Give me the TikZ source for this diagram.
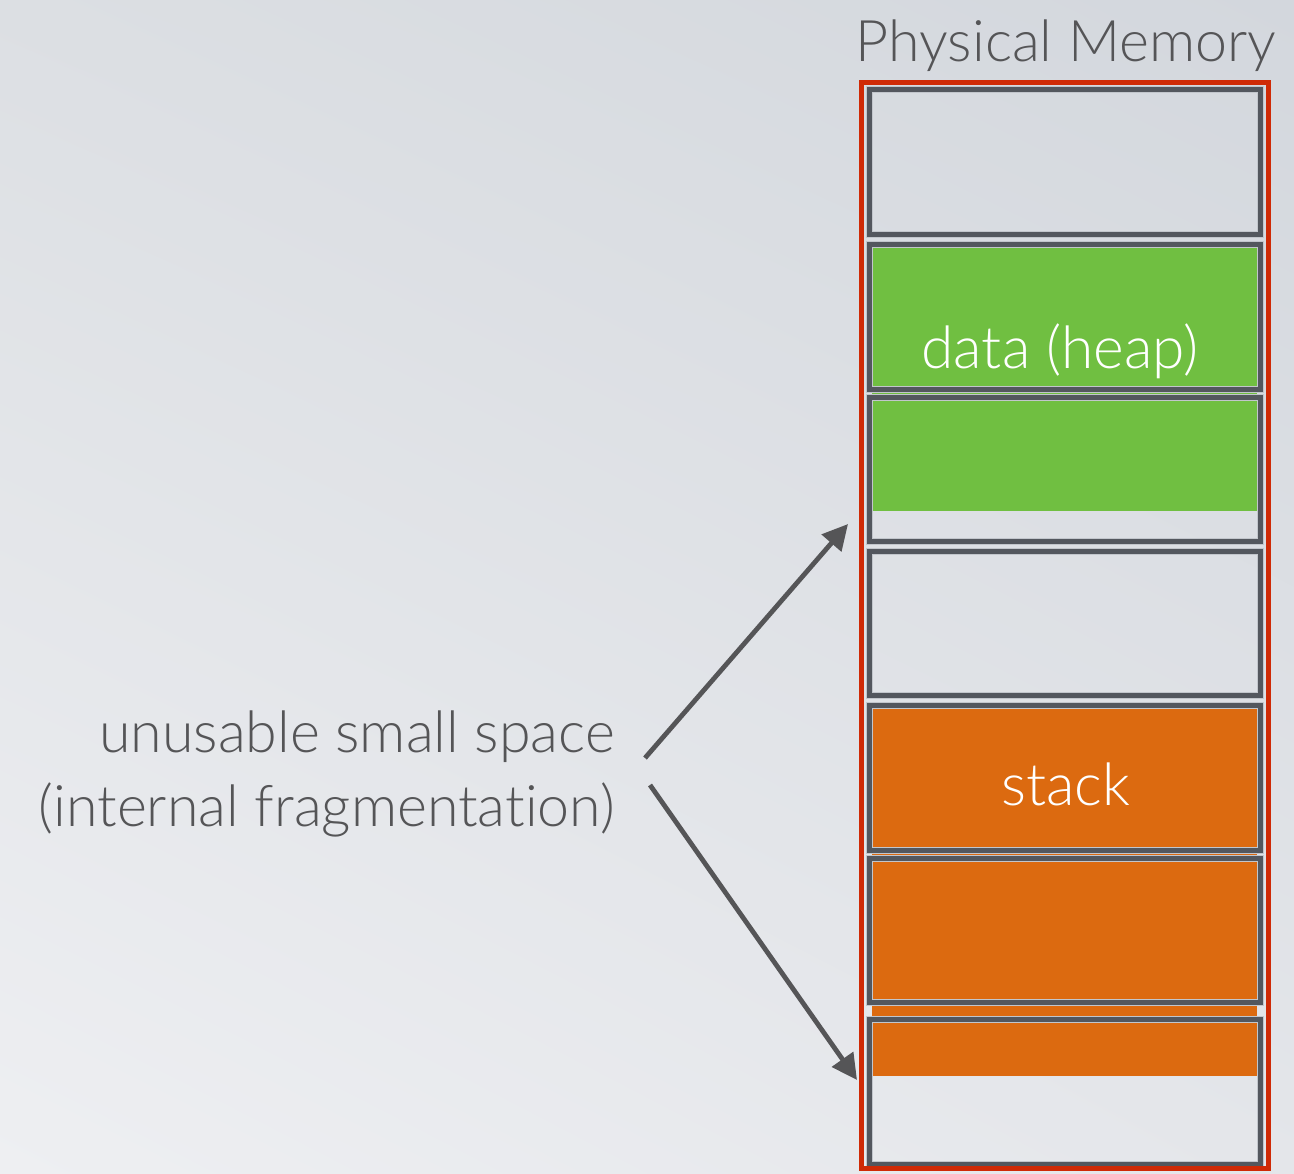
\documentclass[tikz,border=0pt]{standalone}
\usepackage{fontspec}
\setmainfont{Lato}[UprightFont={* Light}, Ligatures=NoCommon]
\usetikzlibrary{arrows.meta,shadings}

\definecolor{bgtr}{HTML}{D3D7DD}
\definecolor{bgtl}{HTML}{DCDFE3}
\definecolor{bgbl}{HTML}{EEEFF2}
\definecolor{bgbr}{HTML}{E4E6EA}
\definecolor{slate}{HTML}{53575E}
\definecolor{edgehi}{HTML}{C2C6CC}
\definecolor{heapgreen}{HTML}{70BF41}
\definecolor{stackorange}{HTML}{DC6A10}
\definecolor{framered}{HTML}{CF2A06}
\definecolor{inkgray}{HTML}{555557}

\tikzset{
  frame/.style={draw=framered, line width=3.75pt, inner sep=0pt,
    minimum width=305.25pt, minimum height=813.75pt},
  slot/.style={draw=slate, line width=3.75pt, inner sep=0pt,
    minimum width=293.25pt,
    preaction={draw=edgehi, line width=5.4pt}},
  bigtext/.style={inner sep=0pt, text=inkgray, font=\fontsize{43}{52}\selectfont},
  filltext/.style={inner sep=0pt, text=white, font=\fontsize{44}{53}\selectfont},
  pointer/.style={draw=inkgray, line width=3.6pt,
    -{Triangle[length=19pt,width=19pt]}},
}

\begin{document}
\begin{tikzpicture}[x=0.75pt,y=-0.75pt]
  % backdrop
  \shade[upper left=bgtl, upper right=bgtr, lower left=bgbl, lower right=bgbr]
    (0,0) rectangle (1294,1173);
  \useasboundingbox (0,0) rectangle (1294,1173);

  % allocated regions
  \fill[heapgreen] (872,247) rectangle (1257,511);
  \fill[stackorange] (872,708) rectangle (1257,1076);

  % memory slots
  \node[slot, minimum height=108.75pt] (s1) at (1065,162) {};
  \node[slot, minimum height=108.75pt] (s2) at (1065,317) {};
  \node[slot, minimum height=108pt]    (s3) at (1065,469.5) {};
  \node[slot, minimum height=108pt]    (s4) at (1065,623.5) {};
  \node[slot, minimum height=108.75pt] (s5) at (1065,778) {};
  \node[slot, minimum height=108pt]    (s6) at (1065,930.5) {};
  \node[slot, minimum height=108.75pt] (s7) at (1065,1092) {};

  % outer frame
  \node[frame] (mem) at (1064.5,625.5) {};

  % titles and labels
  \node[bigtext, anchor=base] (title) at (1066,62) {Physical Memory};
  \node[filltext, anchor=base] (heap) at (1060,368) {data (heap)};
  \node[filltext, anchor=base] (stk) at (1066,805) {stack};
  \node[bigtext, anchor=base east] (lblA) at (615,752) {unusable small space};
  \node[bigtext, anchor=base east] (lblB) at (615,826) {(internal fragmentation)};

  % pointers to the unused tails
  \coordinate (fromA) at (645,758);
  \coordinate (fromB) at (650,785);
  \coordinate (toA) at (848,524);
  \coordinate (toB) at (857,1080);
  \draw[pointer] (fromA) -- (toA);
  \draw[pointer] (fromB) -- (toB);
\end{tikzpicture}
\end{document}
